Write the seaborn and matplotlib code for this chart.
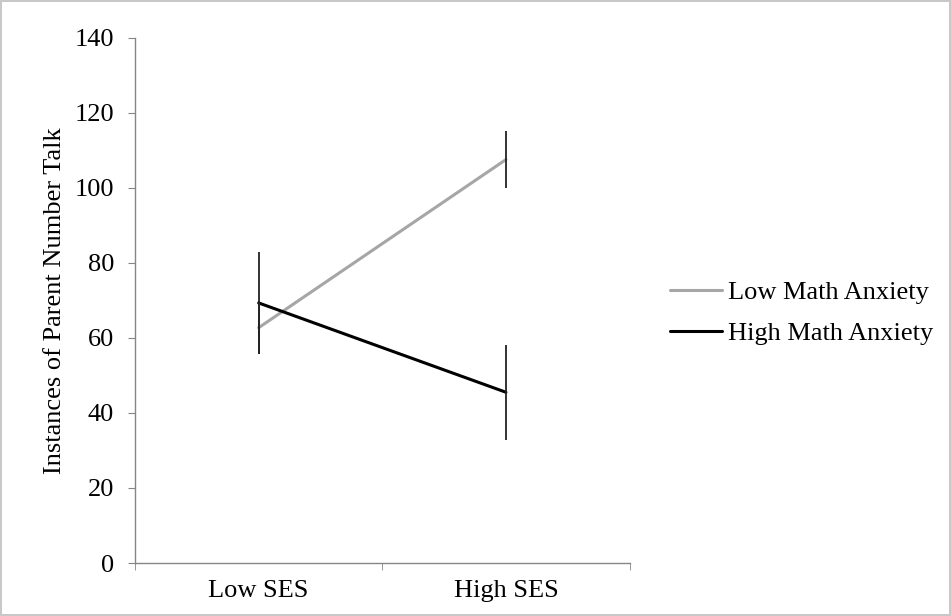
import pandas as pd
import numpy as np
import matplotlib
matplotlib.use('Agg')
import matplotlib.pyplot as plt
import seaborn as sns

# ============================================================
# DATA
# ============================================================
ses_levels = ['Low SES', 'High SES']
groups = ['Low Math Anxiety', 'High Math Anxiety']
low_anx_mean = [62.7, 107.5]
low_anx_err = [7.0, 7.5]
high_anx_mean = [69.3, 45.5]
high_anx_err = [13.5, 12.7]

df = pd.DataFrame({
    'SES': ses_levels * 2,
    'Group': [groups[0]] * 2 + [groups[1]] * 2,
    'Talk': low_anx_mean + high_anx_mean,
    'Err': low_anx_err + high_anx_err,
})

# ============================================================
# PLOT
# ============================================================
sns.set_style('white')
plt.rcParams['font.family'] = ['Liberation Serif', 'DejaVu Serif']
plt.rcParams['text.color'] = 'black'
plt.rcParams['xtick.color'] = 'black'
plt.rcParams['ytick.color'] = 'black'
plt.rcParams['axes.labelcolor'] = 'black'

FS = 19

fig = plt.figure(figsize=(9.51, 6.16), dpi=100)
fig.patch.set_edgecolor('#c8c8c8')
fig.patch.set_linewidth(1.5)
ax = fig.add_axes([0.142, 0.086, 0.520, 0.853])

palette = {groups[0]: '#a6a6a6', groups[1]: '#000000'}

sns.lineplot(data=df, x='SES', y='Talk', hue='Group', palette=palette,
             hue_order=groups, sort=False, ax=ax, linewidth=2.2)

# error bars (dark, no caps)
xpos = np.arange(len(ses_levels))
for g in groups:
    sub = df[df['Group'] == g]
    ax.errorbar(xpos, sub['Talk'], yerr=sub['Err'], fmt='none',
                ecolor='#222222', elinewidth=1.3, capsize=0, zorder=3)

ax.set_xlim(-0.5, 1.5)
ax.set_ylim(0, 140)
ax.set_yticks(range(0, 141, 20))
ax.set_xticks(xpos)
ax.set_xticklabels(ses_levels)
ax.set_xticks([-0.5, 0.5, 1.5], minor=True)
ax.tick_params(axis='x', which='major', length=0, labelsize=FS, pad=12)
ax.tick_params(axis='x', which='minor', length=5, color='#868686',
               direction='out', bottom=True)
ax.tick_params(axis='y', length=5, color='#868686', direction='out',
               left=True, labelsize=FS, pad=10)

ax.set_xlabel('')
ax.set_ylabel('Instances of Parent Number Talk', fontsize=FS)
ax.yaxis.set_label_coords(-0.139, 0.5)

for s in ['top', 'right']:
    ax.spines[s].set_visible(False)
for s in ['left', 'bottom']:
    ax.spines[s].set_color('#868686')
    ax.spines[s].set_linewidth(1)

leg = ax.legend(loc='center left', bbox_to_anchor=(670 / 951, 1 - 313 / 616),
                bbox_transform=fig.transFigure, frameon=False, fontsize=FS,
                handlelength=1.97, handletextpad=0.23, labelspacing=0.68,
                borderpad=0, borderaxespad=0)

fig.savefig('out.png', dpi=100, edgecolor=fig.get_edgecolor())
